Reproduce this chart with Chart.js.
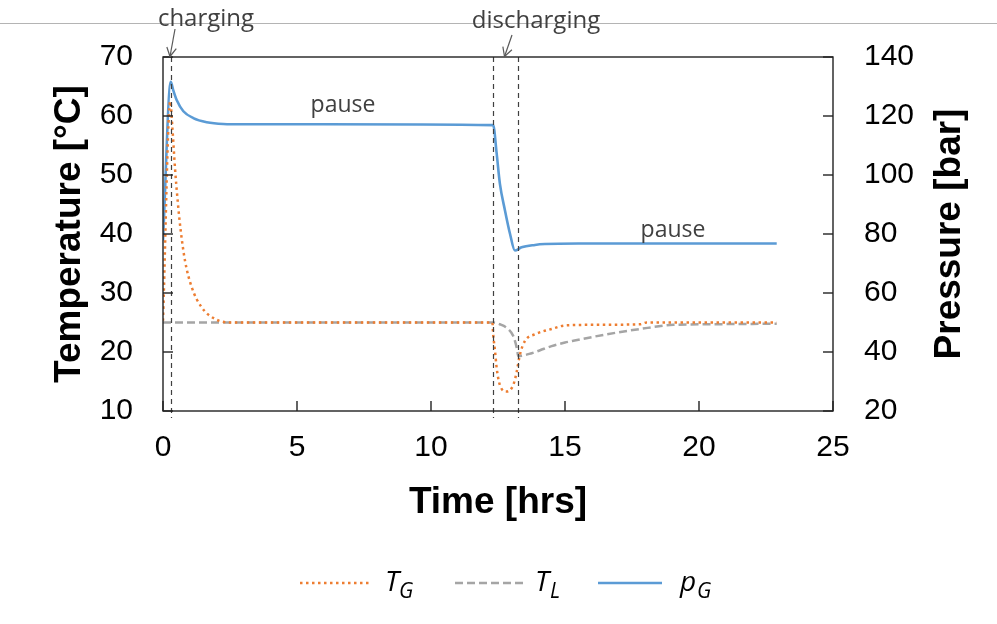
<!DOCTYPE html>
<html>
<head>
<meta charset="utf-8">
<script src="https://cdn.jsdelivr.net/npm/chart.js@4"></script>
<style>
  body { margin: 0; background: #fff; }
  #wrap { width: 997px; height: 624px; }
</style>
</head>
<body>
<div id="wrap"><canvas id="myChart" width="997" height="624"></canvas></div>
<script>
// Gas temperature T_G (°C) vs time (hrs)
const tgTime   = [0, 0.27, 0.35, 0.45, 0.55, 0.65, 0.82, 1.07, 1.44, 1.94, 2.56, 12.29, 12.32, 12.39, 12.45, 12.57, 12.82, 13.07, 13.2, 13.32, 13.51, 13.88, 14.5, 15.0, 15.93, 17.8, 18.05, 22.9];
const tgValues = [25.3, 62.5, 58, 51, 45.5, 41, 35.5, 31, 27.6, 25.6, 25.0, 25.0, 23.0, 20.1, 17.3, 14.4, 13.3, 14.4, 16.7, 19.6, 21.9, 23.0, 23.9, 24.5, 24.6, 24.7, 25.0, 25.0];

// Liquid temperature T_L (°C)
const tlTime   = [0, 12.3, 12.57, 12.88, 13.07, 13.2, 13.26, 13.76, 14.07, 14.5, 15.0, 15.31, 16.56, 17.8, 19.04, 20.29, 22.9];
const tlValues = [25.0, 25.0, 24.7, 23.9, 22.7, 20.7, 19.3, 19.8, 20.3, 21.0, 21.6, 21.9, 23.0, 23.9, 24.6, 24.7, 24.8];

// Gas pressure p_G (bar)
const pgTime   = [0, 0.29, 0.38, 0.51, 0.76, 1.13, 1.63, 2.25, 3.0, 6.0, 12.32, 12.45, 12.57, 12.76, 12.95, 13.13, 13.38, 13.88, 14.25, 15.5, 22.9];
const pgValues = [77.8, 131.6, 128.8, 125.4, 121.6, 119.3, 117.9, 117.3, 117.2, 117.2, 116.9, 107.3, 97.1, 88.0, 80.0, 74.4, 75.5, 76.3, 76.6, 76.8, 76.8];

const xTicks = [0, 5, 10, 15, 20, 25];
const tempTicks = [10, 20, 30, 40, 50, 60, 70];
const pressTicks = [20, 40, 60, 80, 100, 120, 140];
const phaseLines = [0.29, 12.32, 13.26]; // dashed markers: charging start, discharging start/end

const orange = '#ED7D31', grey = '#A5A5A5', blue = '#5B9BD5';
const sansFont = "'Liberation Sans', Arial, sans-serif";
const noteFont = "'Open Sans', sans-serif";

function toPoints(xs, ys) {
    return xs.map((x, i) => ({ x: x, y: ys[i] }));
}

function line(ctx, x1, y1, x2, y2) {
    ctx.beginPath();
    ctx.moveTo(x1, y1);
    ctx.lineTo(x2, y2);
    ctx.stroke();
}

// frame, inward ticks, phase markers, notes and legend
const extras = {
    id: 'extras',
    afterDatasetsDraw(chart) {
        const { ctx, chartArea: a, scales } = chart;
        ctx.save();

        // thin grey rule across the top
        ctx.strokeStyle = '#b4b4b4';
        ctx.lineWidth = 1;
        line(ctx, 0, 23.5, 997, 23.5);

        // dashed phase lines
        ctx.strokeStyle = '#404040';
        ctx.lineWidth = 1.2;
        ctx.setLineDash([5, 4]);
        phaseLines.forEach(t => {
            const px = Math.round(scales.x.getPixelForValue(t)) + 0.5;
            line(ctx, px, a.top, px, a.bottom + 7);
        });
        ctx.setLineDash([]);

        // plot frame
        ctx.strokeStyle = '#222';
        ctx.lineWidth = 1.4;
        ctx.strokeRect(a.left, a.top, a.right - a.left, a.bottom - a.top);

        // tick marks pointing inward
        xTicks.forEach(v => {
            const px = scales.x.getPixelForValue(v);
            line(ctx, px, a.bottom, px, a.bottom - 10);
        });
        tempTicks.forEach(v => {
            const py = scales.yT.getPixelForValue(v);
            line(ctx, a.left, py, a.left + 10, py);
        });
        pressTicks.forEach(v => {
            const py = scales.yP.getPixelForValue(v);
            line(ctx, a.right, py, a.right - 10, py);
        });

        // right axis title, reading bottom to top
        ctx.fillStyle = '#000';
        ctx.font = 'bold 37px ' + sansFont;
        ctx.textAlign = 'center';
        ctx.textBaseline = 'middle';
        ctx.translate(950, (a.top + a.bottom) / 2);
        ctx.rotate(-Math.PI / 2);
        ctx.fillText('Pressure [bar]', 0, 0);
        ctx.setTransform(1, 0, 0, 1, 0, 0);

        // notes with arrows
        ctx.fillStyle = '#404040';
        ctx.font = '24px ' + noteFont;
        ctx.textBaseline = 'alphabetic';
        ctx.fillText('charging', 206, 26);
        ctx.fillText('discharging', 536, 28);
        ctx.font = '23px ' + noteFont;
        ctx.fillText('pause', 343, 112);
        ctx.fillText('pause', 673, 237);

        ctx.strokeStyle = '#595959';
        ctx.lineWidth = 1.2;
        [[175, 29, 170, 56.5], [512, 35, 504.5, 56.5]].forEach(([x1, y1, x2, y2]) => {
            line(ctx, x1, y1, x2, y2);
            const ang = Math.atan2(y2 - y1, x2 - x1);
            [0.5, -0.5].forEach(d => {
                line(ctx, x2, y2, x2 - 10 * Math.cos(ang + d), y2 - 10 * Math.sin(ang + d));
            });
        });

        // legend
        const ly = 583;
        ctx.lineWidth = 2.5;
        ctx.strokeStyle = orange;
        ctx.setLineDash([2.5, 3.5]);
        line(ctx, 300, ly, 370, ly);
        ctx.strokeStyle = grey;
        ctx.setLineDash([8, 4]);
        line(ctx, 455, ly, 527, ly);
        ctx.setLineDash([]);
        ctx.strokeStyle = blue;
        line(ctx, 598, ly, 662, ly);

        ctx.fillStyle = '#000';
        ctx.textAlign = 'left';
        ctx.font = 'italic 28px ' + noteFont;
        ctx.fillText('T', 385, 591);
        ctx.fillText('T', 535, 591);
        ctx.fillText('p', 680, 591);
        ctx.font = 'italic 21px ' + noteFont;
        ctx.fillText('G', 399, 598);
        ctx.fillText('L', 550, 598);
        ctx.fillText('G', 697, 598);

        ctx.restore();
    }
};

const ctx = document.getElementById('myChart').getContext('2d');
const myChart = new Chart(ctx, {
    type: 'line',
    data: {
        datasets: [
            {
                label: 'T_G',
                data: toPoints(tgTime, tgValues),
                borderColor: orange,
                borderWidth: 2.5,
                borderDash: [2.5, 3.5],
                pointRadius: 0,
                cubicInterpolationMode: 'monotone',
                yAxisID: 'yT'
            },
            {
                label: 'T_L',
                data: toPoints(tlTime, tlValues),
                borderColor: grey,
                borderWidth: 2.5,
                borderDash: [8, 4],
                pointRadius: 0,
                cubicInterpolationMode: 'monotone',
                yAxisID: 'yT'
            },
            {
                label: 'p_G',
                data: toPoints(pgTime, pgValues),
                borderColor: blue,
                borderWidth: 2.6,
                pointRadius: 0,
                cubicInterpolationMode: 'monotone',
                yAxisID: 'yP'
            }
        ]
    },
    options: {
        responsive: false,
        animation: false,
        devicePixelRatio: 1,
        layout: { padding: { top: 57, left: 0, right: 0, bottom: 0 } },
        plugins: {
            legend: { display: false },
            tooltip: { enabled: false }
        },
        scales: {
            x: {
                type: 'linear',
                min: 0,
                max: 25,
                afterBuildTicks: s => { s.ticks = xTicks.map(v => ({ value: v })); },
                afterFit: s => { s.height = 213; },
                grid: { display: false, drawTicks: false },
                border: { display: false },
                ticks: { color: '#000', padding: 19, font: { family: sansFont, size: 30 } },
                title: {
                    display: true,
                    text: 'Time [hrs]',
                    color: '#000',
                    padding: { top: 0, bottom: 99 },
                    font: { family: sansFont, size: 37, weight: 'bold' }
                }
            },
            yT: {
                position: 'left',
                min: 10,
                max: 70,
                afterBuildTicks: s => { s.ticks = tempTicks.map(v => ({ value: v })); },
                afterFit: s => { s.width = 163; },
                grid: { display: false, drawTicks: false },
                border: { display: false },
                ticks: { color: '#000', padding: 30, font: { family: sansFont, size: 30 } },
                title: {
                    display: true,
                    text: 'Temperature [°C]',
                    color: '#000',
                    padding: { top: 48, bottom: 0 },
                    font: { family: sansFont, size: 37, weight: 'bold' }
                }
            },
            yP: {
                position: 'right',
                min: 20,
                max: 140,
                afterBuildTicks: s => { s.ticks = pressTicks.map(v => ({ value: v })); },
                afterFit: s => { s.width = 164; },
                grid: { display: false, drawTicks: false },
                border: { display: false },
                ticks: { color: '#000', padding: 31, font: { family: sansFont, size: 30 } }
            }
        }
    },
    plugins: [extras]
});
</script>
</body>
</html>
